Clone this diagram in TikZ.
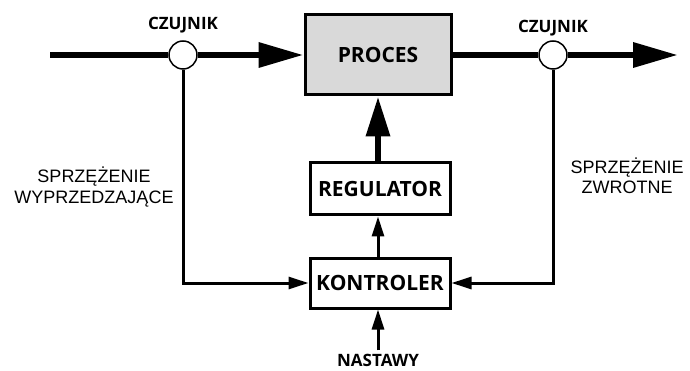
\documentclass[tikz,border=0pt]{standalone}
\usepackage{fontspec}
\setmainfont{Liberation Sans}
\newfontfamily\blockfont{Open Sans}
\usepackage{tikz}
\usetikzlibrary{arrows.meta}

\begin{document}
\begin{tikzpicture}[x=1pt,y=-1pt,
        block/.style={draw,line width=3pt,inner sep=0pt,minimum width=140pt,
            font=\blockfont\bfseries\fontsize{21}{25}\selectfont},
        sensor/.style={draw,circle,fill=white,line width=1.5pt,minimum size=28pt,inner sep=0pt},
        tag/.style={anchor=base,font=\blockfont\bfseries\fontsize{17}{19}\selectfont,inner sep=1pt},
        note/.style={align=center,font=\fontsize{18}{20.5}\selectfont},
        mainline/.style={line width=6.5pt},
        thinline/.style={line width=3pt},
        bighead/.style={-{Triangle[length=45pt,width=24pt]}},
        smallhead/.style={-{Triangle[length=20pt,width=12pt]}}]
        \useasboundingbox (0,0) rectangle (690,371);
        % blocks
        \node[block,fill=gray!30,minimum width=146pt,minimum height=80pt] (proces) at (378,55) {PROCES};
        \node[block,minimum height=52pt] (regulator) at (380,189) {REGULATOR};
        \node[block,minimum height=50pt] (kontroler) at (380,283) {KONTROLER};
        % sensors
        \node[sensor] (czujnikA) at (183,55) {};
        \node[sensor] (czujnikB) at (553,55) {};
        \node[tag] at (183,30) {CZUJNIK};
        \node[tag] at (553,33) {CZUJNIK};
        \coordinate (wejscie) at (50,55);
        \coordinate (wyjscie) at (678,55);
        % main path
        \draw[mainline] (wejscie) -- (czujnikA);
        \draw[mainline,bighead] (czujnikA) -- (proces);
        \draw[mainline] (proces) -- (czujnikB);
        \draw[mainline,bighead] (czujnikB) -- (wyjscie);
        \draw[mainline,-{Triangle[length=40pt,width=23pt]}] (regulator.north -| proces.south) -- (proces.south);
        % control
        \draw[thinline,smallhead] (kontroler.north -| 378,0) -- (regulator.south -| 378,0);
        \node[tag] (nastawy) at (378,366) {NASTAWY};
        \draw[thinline,smallhead] (nastawy.north) ++(0,-2) -- (kontroler.south -| 378,0);
        \draw[thinline,smallhead] (czujnikA) |- (kontroler);
        \draw[thinline,smallhead] (czujnikB) |- (kontroler);
        \node[note] at (94,187) {SPRZĘŻENIE\\WYPRZEDZAJĄCE};
        \node[note] at (627,176) {SPRZĘŻENIE\\ZWROTNE};
\end{tikzpicture}
\end{document}
